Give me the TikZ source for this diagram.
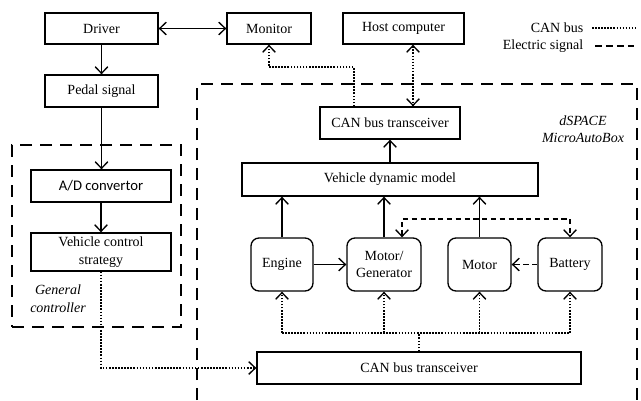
\documentclass[tikz,border=0pt]{standalone}
\usepackage{fontspec}
\setmainfont{Liberation Serif}
\newfontfamily\sanscal{Carlito}
\usetikzlibrary{arrows.meta,calc}
\begin{document}
\begin{tikzpicture}[x=0.75pt,y=-0.75pt,
  font=\fontsize{10.5}{12.5}\selectfont,
  box/.style={draw, line width=1pt, inner sep=0pt, align=center, minimum height=24pt},
  rbox/.style={box, rounded corners=6pt, minimum height=39.75pt},
  region/.style={draw, line width=1pt, inner sep=0pt, dash pattern=on 9pt off 6pt},
  canl/.style={line width=1.1pt, dash pattern=on 1.2pt off 1.1pt},
  elec/.style={line width=1pt, dash pattern=on 4pt off 2.6pt},
  sol/.style={line width=1pt},
  >={Straight Barb[length=5pt,width=9.5pt,line width=1pt]}]
\useasboundingbox (0,0) rectangle (641,400);
% blocks
\node[box, minimum width=84.75pt, minimum height=23.25pt] (driver) at (101.5,28.5) {Driver};
\node[box, minimum width=63pt, minimum height=23.25pt] (monitor) at (269,28.5) {Monitor};
\node[box, minimum width=90.75pt, minimum height=23.25pt] (host) at (403.5,28.5) {Host computer};
\node[box, minimum width=84.75pt] (pedal) at (101.5,91) {Pedal signal};
\node[region, minimum width=126.75pt, minimum height=136.5pt] (gc) at (96.5,236) {};
\node[box, minimum width=105pt, font=\sanscal\fontsize{11}{12.5}\selectfont] (ad) at (101,186) {A/D convertor};
\node[box, minimum width=105pt, minimum height=28.5pt, font=\fontsize{10.5}{13.5}\selectfont] (vcs) at (101,252) {Vehicle control\\strategy};
\node[font=\itshape\fontsize{10.5}{13.5}\selectfont, align=center] (gclabel) at (58,299) {General\\controller};
% dSPACE region
\coordinate (d1) at (197,400);
\coordinate (d2) at (197,84);
\coordinate (d3) at (637,84);
\coordinate (d4) at (637,400);
\draw[line width=1pt, dash pattern=on 9pt off 6pt] (d1) -- (d2) -- (d3) -- (d4);
\node[font=\itshape\fontsize{10.5}{13}\selectfont, align=center] (dslabel) at (583,129) {dSPACE\\MicroAutoBox};
\node[box, minimum width=105pt] (can1) at (390,123) {CAN bus transceiver};
\node[box, minimum width=222pt, minimum height=24.75pt] (vdm) at (390,179.5) {Vehicle dynamic model};
\node[rbox, minimum width=46.5pt] (engine) at (282,264.5) {Engine};
\node[rbox, minimum width=55.5pt] (mg) at (384,264.5) {Motor/\\Generator};
\node[rbox, minimum width=47.25pt] (motor) at (479.5,264.5) {Motor};
\node[rbox, minimum width=48pt] (battery) at (570,264.5) {Battery};
\node[box, minimum width=243pt] (can2) at (419,368) {CAN bus transceiver};
% legend
\node[anchor=east] (lcan) at (588,28) {CAN bus};
\node[anchor=east] (lel) at (588,46) {Electric signal};
\coordinate (lc1) at (592,28);
\coordinate (lc2) at (636,28);
\coordinate (le1) at (595,46);
\coordinate (le2) at (636,46);
\draw[canl] (lc1) -- (lc2);
\draw[line width=1pt, dash pattern=on 5pt off 3.2pt] (le1) -- (le2);
% solid connectors
\draw[sol,<->] (driver.east) -- (monitor.west);
\draw[sol,->] (driver.south) -- (driver.south |- pedal.north);
\draw[sol,->] (pedal.south) -- (pedal.south |- ad.north);
\draw[sol,->] (ad.south) -- (ad.south |- vcs.north);
\draw[sol,->] (can1.south |- vdm.north) -- (can1.south);
\draw[sol,->] (engine.north) -- (engine.north |- vdm.south);
\draw[sol,->] (mg.north) -- (mg.north |- vdm.south);
\draw[sol,->] (motor.north) -- (motor.north |- vdm.south);
\draw[sol,->] (engine.east) -- (mg.west);
% CAN bus (dotted) connectors
\coordinate (xh) at (413,0);
\draw[canl,<->] (xh |- host.south) -- (xh |- can1.north);
\coordinate (m1) at (354,67);
\draw[canl,->] (m1 |- can1.north) -- (m1) -| (monitor.south);
\draw[canl,->] (vcs.south) |- (can2.west);
\coordinate (bus) at (419,333);
\draw[canl] (can2.north -| bus) -- (bus);
\draw[canl] (engine.south |- bus) -- (battery.south |- bus);
\draw[canl,->] (engine.south |- bus) -- (engine.south);
\draw[canl,->] (mg.south |- bus) -- (mg.south);
\draw[canl,->] (motor.south |- bus) -- (motor.south);
\draw[canl,->] (battery.south |- bus) -- (battery.south);
% electric (dashed) connectors
\coordinate (ea) at (402,219);
\draw[elec,<->] (ea |- mg.north) -- (ea) -| (battery.north);
\draw[elec,->] (battery.west) -- (motor.east);
\end{tikzpicture}
\end{document}
